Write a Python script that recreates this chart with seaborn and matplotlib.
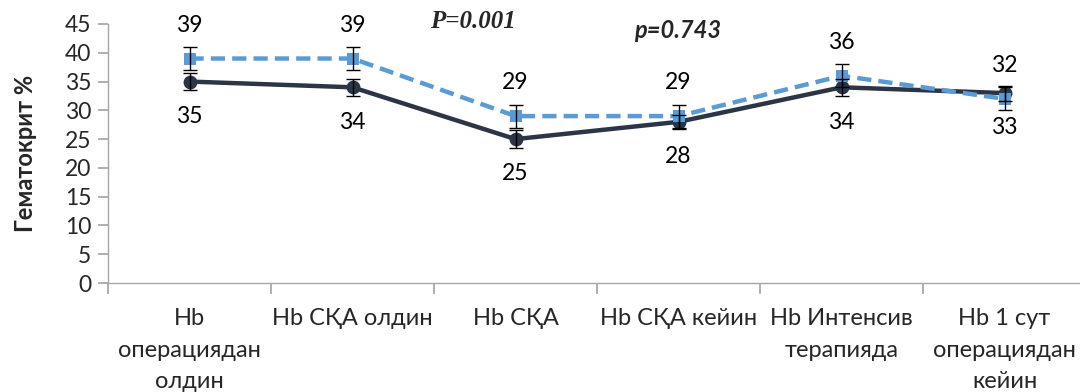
import matplotlib
matplotlib.use("Agg")
import matplotlib.pyplot as plt
import seaborn as sns
import pandas as pd
import numpy as np

categories = [
    "Hb\nоперациядан\nолдин",
    "Hb СҚА олдин",
    "Hb СҚА",
    "Hb СҚА кейин",
    "Hb Интенсив\nтерапияда",
    "Hb 1 сут\nоперациядан\nкейин",
]
dark_values = [35, 34, 25, 28, 34, 33]
dark_err = [1.5, 1.5, 1.5, 1.2, 1.5, 1.3]
blue_values = [39, 39, 29, 29, 36, 32]
blue_err = [2.0, 2.0, 2.0, 2.0, 2.0, 2.0]
y_ticks = list(range(0, 50, 5))

sns.set_theme(style="white")
plt.rcParams["font.family"] = ["Lato", "DejaVu Sans"]

fig = plt.figure(figsize=(10.8, 3.92), dpi=100)
ax = fig.add_axes([108 / 1080, 1 - 283 / 392, 978 / 1080, 259 / 392])

x = np.arange(len(categories)) + 0.5
df = pd.DataFrame({"x": np.concatenate([x, x]),
                   "y": dark_values + blue_values,
                   "s": ["dark"] * 6 + ["blue"] * 6})

dark_col = "#2b3546"
blue_col = "#5b9bd5"

sns.lineplot(data=df[df.s == "dark"], x="x", y="y", ax=ax, color=dark_col,
             lw=3.2, marker="o", markersize=10, markeredgewidth=0, zorder=3)
sns.lineplot(data=df[df.s == "blue"], x="x", y="y", ax=ax, color=blue_col,
             lw=3.2, ls=(0, (3.2, 1.6)), marker="s", markersize=8,
             markeredgewidth=0, zorder=4)

ax.errorbar(x, dark_values, yerr=dark_err, fmt="none", ecolor="black",
            elinewidth=1, capsize=5, capthick=1, zorder=5)
ax.errorbar(x, blue_values, yerr=blue_err, fmt="none", ecolor="black",
            elinewidth=1, capsize=5, capthick=1, zorder=5)

for xi, v in zip(x, dark_values):
    ax.annotate(f"{v}", (xi, v), xytext=(0, -25), textcoords="offset points",
                ha="center", va="center", fontsize=16.5, color="black")
for xi, v in zip(x, blue_values):
    ax.annotate(f"{v}", (xi, v), xytext=(0, 24), textcoords="offset points",
                ha="center", va="center", fontsize=16.5, color="black")

ax.set_xlim(0, 6)
ax.set_ylim(0, 45)
ax.set_yticks(y_ticks)
ax.set_yticklabels([str(t) for t in y_ticks], fontsize=16.5)
ax.set_xticks(np.arange(0, 7))
ax.set_xticklabels([])
ax.set_xticks(x, minor=True)
ax.set_xticklabels(categories, minor=True, fontsize=17, linespacing=1.62)
ax.tick_params(axis="x", which="minor", length=0, pad=18)
ax.tick_params(axis="x", which="major", length=8, color="#a6a6a6", direction="out")
ax.tick_params(axis="y", length=7, color="#a6a6a6", direction="out", pad=5)
ax.xaxis.set_ticks_position("bottom")
ax.yaxis.set_ticks_position("left")
ax.set_xlabel("")
ax.set_ylabel("Гематокрит %", fontsize=17, fontweight="bold", labelpad=20)

for side in ["top", "right"]:
    ax.spines[side].set_visible(False)
for side in ["left", "bottom"]:
    ax.spines[side].set_color("#a6a6a6")
    ax.spines[side].set_linewidth(1)

fig.text(473 / 1080, 1 - 22 / 392, "P=0.001", ha="center", va="center",
         fontsize=18, fontweight="bold", style="italic",
         family=["Liberation Serif", "DejaVu Serif"])
fig.text(678 / 1080, 1 - 31 / 392, "p=0.743", ha="center", va="center",
         fontsize=17, fontweight="bold", style="italic")

fig.savefig("out.png", dpi=100)
